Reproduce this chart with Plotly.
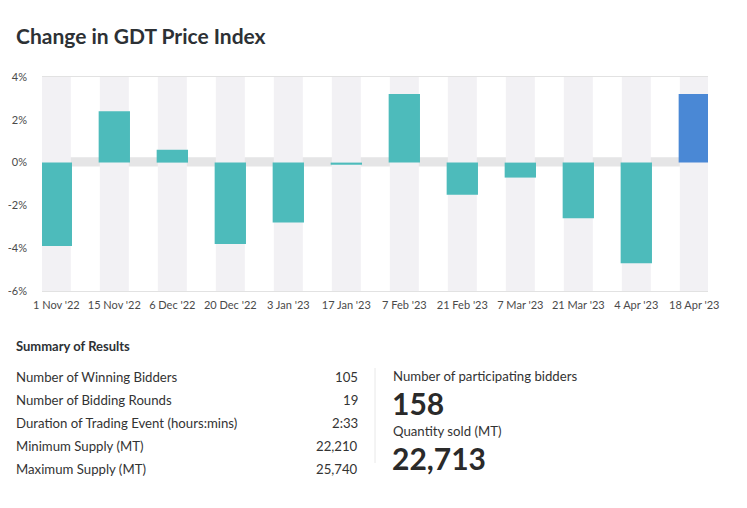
import plotly.graph_objects as go

# page body has an 8px margin, so the figure is 8px smaller each way and offset
OFF = 8
W, H = 747 - OFF, 508 - OFF

categories = ["1 Nov '22", "15 Nov '22", "6 Dec '22", "20 Dec '22", "3 Jan '23", "17 Jan '23",
              "7 Feb '23", "21 Feb '23", "7 Mar '23", "21 Mar '23", "4 Apr '23", "18 Apr '23"]
change_pct = [-3.9, 2.4, 0.6, -3.8, -2.8, -0.1, 3.2, -1.5, -0.7, -2.6, -4.7, 3.2]
bar_colors = ["#4dbbbb"] * 11 + ["#4a88d5"]

y_tick_vals = [-6, -4, -2, 0, 2, 4]
y_tick_text = ["-6%", "-4%", "-2%", "0%", "2%", "4%"]

summary_labels = ["Number of Winning Bidders", "Number of Bidding Rounds",
                  "Duration of Trading Event (hours:mins)", "Minimum Supply (MT)", "Maximum Supply (MT)"]
summary_values = ["105", "19", "2:33", "22,210", "25,740"]

kpi_labels = ["Number of participating bidders", "Quantity sold (MT)"]
kpi_values = ["158", "22,713"]

FONT = "Lato"

def px(x):
    return (x - OFF) / W

def py(y):
    return 1 - (y - OFF) / H

fig = go.Figure()
idx = list(range(len(categories)))

# background columns
fig.add_trace(go.Bar(
    x=idx, y=[10] * len(idx), base=[-6] * len(idx), width=0.5,
    marker=dict(color="#f2f1f4", line=dict(width=0)), hoverinfo="skip", showlegend=False))

fig.add_trace(go.Bar(
    x=idx, y=change_pct, width=0.54,
    marker=dict(color=bar_colors, line=dict(width=0), cornerradius=3),
    showlegend=False))

fig.update_layout(
    template="none",
    width=W, height=H, barmode="overlay", autosize=False,
    margin=dict(l=0, r=0, t=0, b=0, pad=0, autoexpand=False),
    paper_bgcolor="white", plot_bgcolor="white",
    showlegend=False,
    font=dict(family=FONT, color="#4a4a4a", size=11),
    xaxis=dict(domain=[px(42), px(708)], range=[-0.247, 11.236], automargin=False,
               tickmode="array", tickvals=idx, ticktext=categories,
               showgrid=False, zeroline=False, showline=True, mirror=True,
               linecolor="#e2e2e2", linewidth=1, ticks="", ticklabelstandoff=4,
               tickfont=dict(family=FONT, size=11, color="#4a4a4a")),
    yaxis=dict(domain=[py(291), py(77)], range=[-6, 4], automargin=False,
               tickmode="array", tickvals=y_tick_vals, ticktext=y_tick_text,
               showgrid=False, zeroline=False, showline=False, ticks="",
               ticklabelstandoff=14,
               tickfont=dict(family=FONT, size=11, color="#4a4a4a")),
)

# zero band
fig.add_shape(type="rect", xref="x domain", yref="y", x0=0, x1=1, y0=-0.18, y1=0.25,
              fillcolor="#e5e5e6", line=dict(width=0), layer="below")

# separator
fig.add_shape(type="line", xref="paper", yref="paper", x0=px(375), x1=px(375),
              y0=py(368), y1=py(463), line=dict(color="#e8e8e8", width=1))

def text(x, y, s, size, bold=False, anchor="left", color="#2d3135"):
    fig.add_annotation(xref="paper", yref="paper", x=px(x), y=py(y), text=("<b>%s</b>" % s) if bold else s,
                       showarrow=False, xanchor=anchor, yanchor="middle",
                       font=dict(family=FONT, size=size, color=color), borderpad=0)

text(15, 35, "Change in GDT Price Index", 21, bold=True)
text(15, 346, "Summary of Results", 13, bold=True)
row_y = [376.5, 399.5, 422.5, 445.5, 468.5]
for lab, val, yy in zip(summary_labels, summary_values, row_y):
    text(15, yy, lab, 13.2, color="#333333")
    text(359, yy, val, 13.2, anchor="right", color="#333333")

text(392, 376, kpi_labels[0], 13.2, color="#333333")
text(391, 403, kpi_values[0], 30, bold=True, color="#2a2a2a")
text(392, 431, kpi_labels[1], 13.2, color="#333333")
text(391, 458, kpi_values[1], 30, bold=True, color="#2a2a2a")

fig.write_html("out.html")
